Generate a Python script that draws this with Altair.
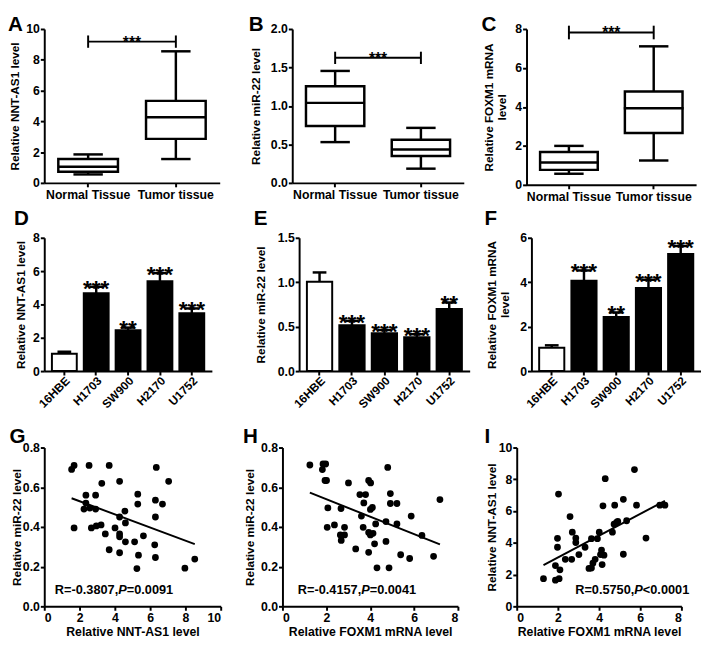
import altair as alt
import pandas as pd

FONT = "Liberation Sans"

# ---------------- Box plots (A, B, C) ----------------
box_cats = ["Normal Tissue", "Tumor tissue"]
A_min = [0.55, 1.55]; A_q1 = [0.72, 2.86]; A_med = [1.05, 4.27]; A_q3 = [1.55, 5.33]; A_max = [1.85, 8.55]
B_min = [0.53, 0.185]; B_q1 = [0.74, 0.35]; B_med = [1.04, 0.435]; B_q3 = [1.255, 0.56]; B_max = [1.455, 0.715]
C_min = [0.57, 1.25]; C_q1 = [0.77, 2.66]; C_med = [1.15, 3.93]; C_q3 = [1.69, 4.79]; C_max = [2.0, 7.11]

# ---------------- Bar charts (D, E, F) ----------------
cell_lines = ["16HBE", "H1703", "SW900", "H2170", "U1752"]
D_mean = [1.04, 4.67, 2.45, 5.39, 3.47]; D_err = [1.16, 5.06, 2.61, 5.88, 3.76]
E_mean = [1.006, 0.515, 0.425, 0.38, 0.70]; E_err = [1.11, 0.565, 0.462, 0.415, 0.772]
F_mean = [1.05, 4.07, 2.44, 3.74, 5.27]; F_err = [1.16, 4.53, 2.64, 4.11, 5.63]
D_sig = ["", "***", "**", "***", "***"]
E_sig = ["", "***", "***", "***", "**"]
F_sig = ["", "***", "**", "***", "***"]

# ---------------- Scatter plots (G, H, I) ----------------
G_x = [1.55, 1.69, 2.54, 3.68, 4.27, 3.26, 2.36, 2.91, 5.30, 6.35, 7.05, 6.30, 6.70, 5.30, 2.36,
       2.25, 2.58, 2.91, 4.57, 4.27, 6.30, 4.60, 1.69, 2.67, 2.95, 3.22, 4.01, 3.46, 4.27, 4.27,
       5.62, 4.60, 5.12, 3.68, 6.26, 4.27, 5.34, 6.30, 5.25, 7.97, 8.53]
G_y = [0.69, 0.71, 0.71, 0.71, 0.63, 0.62, 0.56, 0.56, 0.565, 0.70, 0.63, 0.535, 0.515, 0.515, 0.52,
       0.49, 0.495, 0.49, 0.48, 0.45, 0.45, 0.42, 0.395, 0.395, 0.405, 0.41, 0.395, 0.365, 0.365, 0.35,
       0.355, 0.325, 0.325, 0.285, 0.31, 0.27, 0.258, 0.246, 0.19, 0.192, 0.238]
H_x = [1.25, 1.85, 1.97, 1.82, 1.94, 2.01, 3.01, 2.07, 2.04, 2.37, 2.67, 2.64, 2.68, 2.83, 2.83,
       3.34, 3.53, 3.79, 3.71, 3.60, 3.68, 3.93, 4.02, 4.10, 4.01, 3.93, 4.01, 4.13, 4.25, 4.20,
       3.93, 4.31, 4.80, 4.92, 4.92, 5.22, 5.22, 4.72, 4.72, 4.86, 5.39, 5.87, 5.80, 6.36, 6.89, 7.18]
H_y = [0.712, 0.717, 0.717, 0.689, 0.634, 0.634, 0.622, 0.496, 0.398, 0.41, 0.493, 0.36, 0.332, 0.398, 0.36,
       0.289, 0.563, 0.563, 0.521, 0.455, 0.398, 0.634, 0.622, 0.498, 0.488, 0.372, 0.36, 0.368, 0.415, 0.315,
       0.272, 0.194, 0.70, 0.568, 0.518, 0.518, 0.415, 0.427, 0.327, 0.194, 0.26, 0.455, 0.241, 0.357, 0.252, 0.538]
I_x = [1.30, 1.88, 2.06, 1.88, 2.10, 1.98, 1.98, 2.03, 2.36, 2.67, 2.59, 2.70, 2.87, 2.87, 3.02,
       3.32, 3.51, 3.63, 3.63, 3.70, 3.81, 3.92, 4.01, 4.07, 4.12, 4.15, 4.24, 4.19, 4.30, 4.65,
       4.76, 4.73, 4.85, 4.91, 5.18, 5.18, 5.34, 5.72, 5.82, 6.28, 6.95, 7.20]
I_y = [1.74, 1.65, 1.74, 2.57, 2.30, 3.72, 4.28, 7.07, 2.96, 2.96, 5.65, 4.67, 4.30, 4.02, 3.26,
       3.72, 2.39, 2.41, 4.26, 2.72, 2.96, 4.26, 4.67, 3.26, 3.54, 2.63, 3.22, 6.33, 8.04, 4.67,
       6.37, 5.17, 5.28, 5.35, 6.74, 3.28, 5.39, 8.61, 6.37, 4.30, 6.37, 6.37]

STROKE = 2.5
CW = {"R": 722, "=": 584, "-": 333, ".": 278, ",": 278, "P": 667, "<": 584}


def parts_w(parts, fs):
    return [sum(CW.get(c, 556) for c in p) * fs / 1000 for p in parts]


def letter_title(letter, offset, dx=-1):
    return alt.Title(letter, anchor="start", fontSize=21, font=FONT, fontWeight="bold",
                     color="black", offset=offset, dx=dx)


def yaxis_spec(title, vals, fmt, tp):
    return alt.Axis(title=title, values=vals, format=fmt, titlePadding=tp, labelPadding=1)


def box_panel(letter, ytitle, mins, q1s, meds, q3s, maxs, ymax, yvals, fmt,
              br_y, br_h, W, H, tp, toff):
    df = pd.DataFrame({"cat": box_cats, "lo": mins, "q1": q1s, "med": meds,
                       "q3": q3s, "hi": maxs})
    xscale = alt.Scale(domain=box_cats, paddingInner=0.32, paddingOuter=0.16)
    xaxis = alt.Axis(title=None, labelAngle=0, labelPadding=2, labelFontSize=12.5)
    yscale = alt.Scale(domain=[0, ymax], nice=False)
    yaxis = yaxis_spec(ytitle, yvals, fmt, tp)

    def X(f):
        return alt.X(f, scale=xscale, axis=xaxis)

    def Y(f):
        return alt.Y(f, scale=yscale, axis=yaxis)

    base = alt.Chart(df)
    whisk = base.mark_rule(color="black", strokeWidth=STROKE).encode(
        x=X("cat:N"), y=Y("lo:Q"), y2="hi:Q")
    box = base.mark_bar(fill="white", stroke="black", strokeWidth=STROKE, opacity=1).encode(
        x=X("cat:N"), y=Y("q1:Q"), y2="q3:Q")
    med = base.mark_tick(color="black", thickness=STROKE, size=61, opacity=1).encode(
        x=X("cat:N"), y=Y("med:Q"))
    cap_lo = base.mark_tick(color="black", thickness=STROKE, size=30, opacity=1).encode(
        x=X("cat:N"), y=Y("lo:Q"))
    cap_hi = base.mark_tick(color="black", thickness=STROKE, size=30, opacity=1).encode(
        x=X("cat:N"), y=Y("hi:Q"))

    br = pd.DataFrame({"c1": [box_cats[0]], "c2": [box_cats[1]], "y": [br_y], "lab": ["***"]})
    ends = pd.DataFrame({"cat": box_cats, "y1": [br_y - br_h] * 2, "y2": [br_y + br_h] * 2})
    hline = alt.Chart(br).mark_rule(color="black", strokeWidth=2).encode(
        x=X("c1:N"), x2="c2:N", y=Y("y:Q"))
    vline = alt.Chart(ends).mark_rule(color="black", strokeWidth=2).encode(
        x=X("cat:N"), y=Y("y1:Q"), y2="y2:Q")
    stars = alt.Chart(br).mark_text(font=FONT, fontWeight="bold", fontSize=16,
                                    baseline="alphabetic", dy=6, color="black").encode(
        x=alt.value(W / 2), y=Y("y:Q"), text="lab:N")
    return alt.layer(whisk, box, med, cap_lo, cap_hi, hline, vline, stars).properties(
        width=W, height=H, title=letter_title(letter, toff))


def bar_panel(letter, ytitle, means, errs, sigs, ymax, yvals, fmt, W, H, tp, toff):
    df = pd.DataFrame({"cat": cell_lines, "m": means, "e": errs, "sig": sigs})
    xscale = alt.Scale(domain=cell_lines, paddingInner=0.22, paddingOuter=0.24)
    xaxis = alt.Axis(title=None, labelAngle=-45, labelPadding=0, labelFontSize=12)
    yscale = alt.Scale(domain=[0, ymax], nice=False)
    yaxis = yaxis_spec(ytitle, yvals, fmt, tp)

    def X(f):
        return alt.X(f, scale=xscale, axis=xaxis)

    def Y(f):
        return alt.Y(f, scale=yscale, axis=yaxis)

    base = alt.Chart(df)
    err = base.mark_rule(color="black", strokeWidth=STROKE).encode(
        x=X("cat:N"), y=Y("m:Q"), y2="e:Q")
    cap = base.mark_tick(color="black", thickness=STROKE, size=14, opacity=1).encode(
        x=X("cat:N"), y=Y("e:Q"))
    bars = base.mark_bar(stroke="black", strokeWidth=2, opacity=1).encode(
        x=X("cat:N"), y=Y("m:Q"),
        fill=alt.condition(alt.datum.cat == cell_lines[0], alt.value("white"), alt.value("black")))
    stars = base.mark_text(font=FONT, fontWeight="bold", fontSize=23, baseline="alphabetic",
                           dy=9, color="black").encode(
        x=X("cat:N"), y=Y("e:Q"), text="sig:N")
    return alt.layer(err, cap, bars, stars).properties(
        width=W, height=H, title=letter_title(letter, toff))


def scatter_panel(letter, xtitle, ytitle, xs, ys, xmax, xvals, ymax, yvals, yfmt,
                  parts, tx, ty, align, W, H, tp, toff, adj=0):
    df = pd.DataFrame({"x": xs, "y": ys})
    xscale = alt.Scale(domain=[0, xmax], nice=False)
    yscale = alt.Scale(domain=[0, ymax], nice=False)
    xaxis = alt.Axis(title=xtitle, values=xvals, format="d", titleFontSize=12.5,
                     titlePadding=2, labelPadding=1)
    yaxis = yaxis_spec(ytitle, yvals, yfmt, tp)

    def X(f):
        return alt.X(f, scale=xscale, axis=xaxis)

    def Y(f):
        return alt.Y(f, scale=yscale, axis=yaxis)

    base = alt.Chart(df)
    pts = base.mark_circle(size=48, color="black", opacity=1).encode(x=X("x:Q"), y=Y("y:Q"))
    reg = base.transform_regression("x", "y").mark_line(color="black", strokeWidth=2).encode(
        x=X("x:Q"), y=Y("y:Q"))
    ann = pd.DataFrame({"x": [tx], "y": [ty], "t1": [parts[0]], "t2": [parts[1]], "t3": [parts[2]]})
    fs = 13
    w1, w2, w3 = parts_w(parts, fs)
    layers = [pts, reg]
    start = (0 if align == "left" else -(w1 + w2 + w3)) + adj
    offs = [start, start + w1, start + w1 + w2]
    for i, (field, off) in enumerate(zip(["t1", "t2", "t3"], offs)):
        layers.append(alt.Chart(ann).mark_text(
            font=FONT, fontWeight="bold", fontSize=fs, align="left", baseline="middle",
            fontStyle="italic" if i == 1 else "normal", dx=off, color="black").encode(
            x=X("x:Q"), y=Y("y:Q"), text=f"{field}:N"))
    return alt.layer(*layers).properties(width=W, height=H, title=letter_title(letter, toff))


A = box_panel("A", "Relative NNT-AS1 level", A_min, A_q1, A_med, A_q3, A_max, 10,
              [0, 2, 4, 6, 8, 10], "d", 9.18, 0.4, 179, 157, 4, -12)
B = box_panel("B", "Relative miR-22 level", B_min, B_q1, B_med, B_q3, B_max, 2.0,
              [0, 0.5, 1.0, 1.5, 2.0], ".1f", 1.625, 0.08, 175, 157, 8, -12)
C = box_panel("C", ["Relative FOXM1 mRNA", "level"], C_min, C_q1, C_med, C_q3, C_max, 8,
              [0, 2, 4, 6, 8], "d", 7.82, 0.35, 173, 159, 6, -12)

D = bar_panel("D", "Relative NNT-AS1 level", D_mean, D_err, D_sig, 8, [0, 2, 4, 6, 8], "d", 171, 136, 5, 3)
E = bar_panel("E", "Relative miR-22 level", E_mean, E_err, E_sig, 1.5, [0, 0.5, 1.0, 1.5], ".1f", 174, 136, 10, 3)
F = bar_panel("F", ["Relative FOXM1 mRNA", "level"], F_mean, F_err, F_sig, 6, [0, 2, 4, 6], "d", 173, 136, 8, 3)

G = scatter_panel("G", "Relative NNT-AS1 level", "Relative miR-22 level", G_x, G_y, 10,
                  [0, 2, 4, 6, 8, 10], 0.8, [0, 0.2, 0.4, 0.6, 0.8], ".1f",
                  ["R=-0.3807,", "P", "=0.0091"], 0.6, 0.08, "left", 180, 162, -1, -5)
H = scatter_panel("H", "Relative FOXM1 mRNA level", "Relative miR-22 level", H_x, H_y, 8,
                  [0, 2, 4, 6, 8], 0.8, [0, 0.2, 0.4, 0.6, 0.8], ".1f",
                  ["R=-0.4157,", "P", "=0.0041"], 0.7, 0.08, "left", 179, 162, 4, -5)
I = scatter_panel("I", "Relative FOXM1 mRNA level", "Relative NNT-AS1 level", I_x, I_y, 8,
                  [0, 2, 4, 6, 8], 10, [0, 2, 4, 6, 8, 10], "d",
                  ["R=0.5750,", "P", "<0.0001"], 8, 1.0, "right", 168, 162, 0, -5, adj=8)

row1 = alt.hconcat(alt.hconcat(A, B, spacing=29), C, spacing=18)
row2 = alt.hconcat(alt.hconcat(D, E, spacing=42), F, spacing=15)
row3 = alt.hconcat(alt.hconcat(G, H, spacing=21), I, spacing=26)

chart = alt.vconcat(alt.vconcat(row1, row2, spacing=5), row3, spacing=16).properties(
    padding={"left": 0, "top": 0, "right": 0, "bottom": 0}
).configure_view(stroke=None).configure_axis(
    labelFont=FONT, labelFontWeight="bold", labelFontSize=12.5, labelColor="black",
    titleFont=FONT, titleFontWeight="bold", titleFontSize=12, titleColor="black",
    domainColor="black", domainWidth=2, tickColor="black", tickWidth=2, tickSize=4,
    grid=False, labelOverlap=False
).configure_title(font=FONT)

chart.save("out.html", embed_options={"renderer": "svg", "actions": False})
